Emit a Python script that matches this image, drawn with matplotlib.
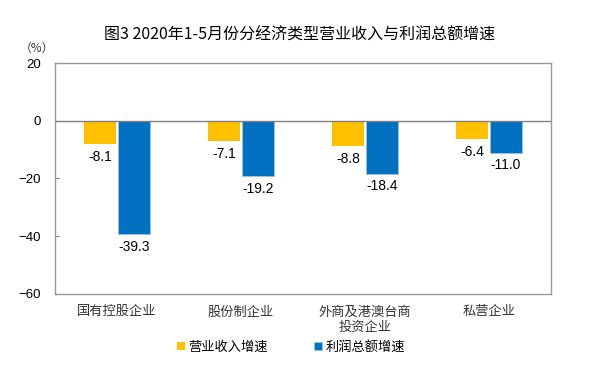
import matplotlib.pyplot as plt
import numpy as np

plt.rcParams['font.family'] = ['Liberation Sans', 'Noto Sans CJK SC', 'DejaVu Sans']

# data
categories = ['国有控股企业', '股份制企业', '外商及港澳台商\n投资企业', '私营企业']
revenue = [-8.1, -7.1, -8.8, -6.4]
profit = [-39.3, -19.2, -18.4, -11.0]
series_names = ['营业收入增速', '利润总额增速']
yticks = [20, 0, -20, -40, -60]

fig = plt.figure(figsize=(5.94, 3.76), dpi=100)
ax = fig.add_axes([0.0926, 0.219, 0.835, 0.6127])

x = np.arange(len(categories))
w = 0.26
b1 = ax.bar(x - w / 2 - 0.005, revenue, w, color='#FFC000', label=series_names[0])
b2 = ax.bar(x + w / 2 + 0.005, profit, w, color='#0070C0', edgecolor='#9DC3E6',
            linewidth=0.6, label=series_names[1])

for bars, vals in ((b1, revenue), (b2, profit)):
    for r, v in zip(bars, vals):
        ax.annotate(f'{v:.1f}', (r.get_x() + r.get_width() / 2, v),
                    xytext=(0, -4), textcoords='offset points',
                    ha='center', va='top', fontsize=10)

ax.axhline(0, color='#808080', linewidth=1)
ax.set_xlim(-0.5, len(categories) - 0.5)
ax.set_ylim(-60, 20)
ax.set_yticks(yticks)
ax.set_xticks(x)
ax.set_xticklabels(categories, fontsize=9.5, color='#333333', linespacing=1.3)
ax.tick_params(axis='x', length=0, pad=9)
ax.tick_params(axis='y', direction='in', length=3, color='#808080', labelsize=9.5, pad=10)
for s in ax.spines.values():
    s.set_color('#999999')
    s.set_linewidth(1)

fig.text(0.505, 0.905, '图3 2020年1-5月份分经济类型营业收入与利润总额增速',
         ha='center', va='center', fontsize=11.5, family='Noto Sans CJK SC')
fig.text(0.062, 0.872, '（%）', ha='center', va='center', fontsize=8.5, color='#333333',
         family='Noto Sans CJK SC')

fig.legend(handles=[b1, b2], loc='center', bbox_to_anchor=(0.49, 0.077), ncol=2,
           frameon=False, fontsize=9.5, handlelength=0.6, handleheight=0.6,
           handletextpad=0.3, columnspacing=3.5)

fig.savefig('out.png', dpi=100)
